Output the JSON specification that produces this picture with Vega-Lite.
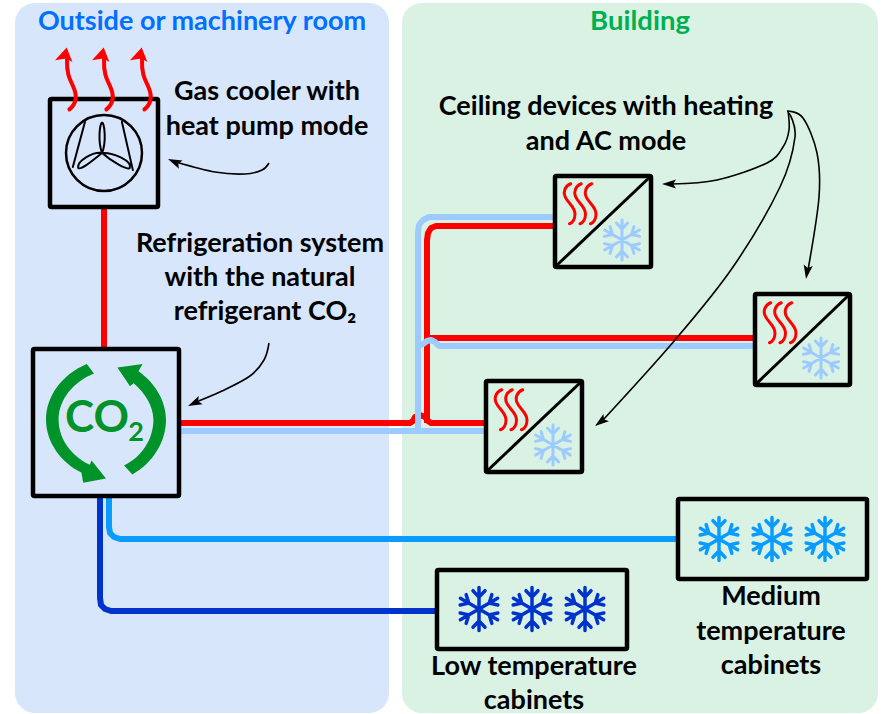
{
"$schema":"https://vega.github.io/schema/vega-lite/v6.json",
"width":883,"height":714,"padding":0,
"autosize":{"type":"fit","contains":"padding"},
"background":"#ffffff",
"config":{"view":{"stroke":null},"legend":{"disable":true}},
"resolve":{"scale":{"color":"independent","size":"independent","shape":"independent","strokeWidth":"independent"}},
"encoding":{
 "x":{"field":"x","type":"quantitative","scale":{"domain":[0,883],"nice":false,"zero":false},"axis":null},
 "y":{"field":"y","type":"quantitative","scale":{"domain":[714,0],"nice":false,"zero":false},"axis":null}
},
"layer":[
{"data":{"values":[{"zone":"outside","x":15,"x2":389,"y":3,"y2":713},{"zone":"building","x":402,"x2":878,"y":3,"y2":713}]},
 "mark":{"type":"rect","cornerRadius":20},
 "encoding":{"x2":{"field":"x2"},"y2":{"field":"y2"},
  "color":{"field":"zone","type":"nominal","scale":{"domain":["outside","building"],"range":["#D8E6FC","#D9F2E4"]}}}},
{"data":{"values":[
 {"pipe":"r1","kind":"hot","i":1,"x":104,"y":207},{"pipe":"r1","kind":"hot","i":2,"x":104,"y":349},
 {"pipe":"r2","kind":"hot","i":1,"x":181,"y":423},{"pipe":"r2","kind":"hot","i":2,"x":410,"y":423},{"pipe":"r2","kind":"hot","i":3,"x":413,"y":421},{"pipe":"r2","kind":"hot","i":4,"x":415,"y":417},{"pipe":"r2","kind":"hot","i":5,"x":420,"y":415},{"pipe":"r2","kind":"hot","i":6,"x":425,"y":417},{"pipe":"r2","kind":"hot","i":7,"x":428,"y":421},{"pipe":"r2","kind":"hot","i":8,"x":431,"y":423},{"pipe":"r2","kind":"hot","i":9,"x":486,"y":423},
 {"pipe":"r3","kind":"hot","i":1,"x":427,"y":423},{"pipe":"r3","kind":"hot","i":2,"x":427,"y":240},{"pipe":"r3","kind":"hot","i":3,"x":428,"y":233},{"pipe":"r3","kind":"hot","i":4,"x":431,"y":228},{"pipe":"r3","kind":"hot","i":5,"x":436,"y":226},{"pipe":"r3","kind":"hot","i":6,"x":442,"y":226},{"pipe":"r3","kind":"hot","i":7,"x":555,"y":226},
 {"pipe":"r4","kind":"hot","i":1,"x":427,"y":338},{"pipe":"r4","kind":"hot","i":2,"x":755,"y":338},
 {"pipe":"b1","kind":"ac","i":1,"x":181,"y":431},{"pipe":"b1","kind":"ac","i":2,"x":486,"y":431},
 {"pipe":"b2","kind":"ac","i":1,"x":418,"y":431},{"pipe":"b2","kind":"ac","i":2,"x":418,"y":232},{"pipe":"b2","kind":"ac","i":3,"x":419,"y":225},{"pipe":"b2","kind":"ac","i":4,"x":423,"y":220},{"pipe":"b2","kind":"ac","i":5,"x":429,"y":217},{"pipe":"b2","kind":"ac","i":6,"x":436,"y":217},{"pipe":"b2","kind":"ac","i":7,"x":555,"y":217},
 {"pipe":"b3","kind":"ac","i":1,"x":418,"y":346},{"pipe":"b3","kind":"ac","i":2,"x":423,"y":344},{"pipe":"b3","kind":"ac","i":3,"x":427,"y":341},{"pipe":"b3","kind":"ac","i":4,"x":431,"y":340},{"pipe":"b3","kind":"ac","i":5,"x":435,"y":342},{"pipe":"b3","kind":"ac","i":6,"x":439,"y":346},{"pipe":"b3","kind":"ac","i":7,"x":444,"y":346},{"pipe":"b3","kind":"ac","i":8,"x":755,"y":346},
 {"pipe":"m","kind":"medium","i":1,"x":109,"y":496},{"pipe":"m","kind":"medium","i":2,"x":109,"y":527},{"pipe":"m","kind":"medium","i":3,"x":110,"y":533},{"pipe":"m","kind":"medium","i":4,"x":114,"y":537},{"pipe":"m","kind":"medium","i":5,"x":120,"y":539},{"pipe":"m","kind":"medium","i":6,"x":678,"y":539},
 {"pipe":"l","kind":"low","i":1,"x":100,"y":496},{"pipe":"l","kind":"low","i":2,"x":100,"y":598},{"pipe":"l","kind":"low","i":3,"x":101,"y":605},{"pipe":"l","kind":"low","i":4,"x":105,"y":609},{"pipe":"l","kind":"low","i":5,"x":111,"y":611},{"pipe":"l","kind":"low","i":6,"x":437,"y":611}
 ]},
 "mark":{"type":"line","strokeWidth":6,"strokeJoin":"round"},
 "encoding":{"detail":{"field":"pipe"},"order":{"field":"i"},
  "color":{"field":"kind","type":"nominal","scale":{"domain":["hot","ac","medium","low"],"range":["#FF0000","#9DCBFF","#0A9BFF","#0033CC"]}}}},
{"data":{"values":[
 {"box":"cooler","x":50,"x2":158,"y":99,"y2":207},{"box":"co2","x":33,"x2":179,"y":349,"y2":496},
 {"box":"top","x":555,"x2":651,"y":176,"y2":267},{"box":"right","x":755,"x2":850,"y":294,"y2":385},{"box":"bottom","x":486,"x2":582,"y":381,"y2":472},
 {"box":"medium","x":678,"x2":867,"y":499,"y2":579},{"box":"low","x":437,"x2":627,"y":570,"y2":649}
 ]},
 "mark":{"type":"rect","filled":false,"stroke":"#000000","strokeWidth":4.5,"cornerRadius":1.5},
 "encoding":{"x2":{"field":"x2"},"y2":{"field":"y2"}}},
{"data":{"values":[
 {"d":"top","i":1,"x":555,"y":267},{"d":"top","i":2,"x":651,"y":176},
 {"d":"right","i":1,"x":755,"y":385},{"d":"right","i":2,"x":850,"y":294},
 {"d":"bottom","i":1,"x":486,"y":472},{"d":"bottom","i":2,"x":582,"y":381}
 ]},
 "mark":{"type":"line","stroke":"#000000","strokeWidth":3},
 "encoding":{"detail":{"field":"d"},"order":{"field":"i"}}},
{"data":{"values":[
 {"glyph":"fan","kind":"black","x":104,"y":153},{"glyph":"ring","kind":"black","x":104,"y":153},
 {"glyph":"riser","kind":"hot","x":70,"y":80},{"glyph":"riser","kind":"hot","x":107,"y":80},{"glyph":"riser","kind":"hot","x":145,"y":80},
 {"glyph":"heat","kind":"hot","x":580,"y":204},{"glyph":"heat","kind":"hot","x":780,"y":323},{"glyph":"heat","kind":"hot","x":511,"y":410},
 {"glyph":"snowS","kind":"ac","x":622,"y":240},{"glyph":"snowS","kind":"ac","x":821,"y":358},{"glyph":"snowS","kind":"ac","x":553,"y":445},
 {"glyph":"snowL","kind":"medium","x":719,"y":539},{"glyph":"snowL","kind":"medium","x":772,"y":539},{"glyph":"snowL","kind":"medium","x":825,"y":539},
 {"glyph":"snowL","kind":"low","x":479,"y":609},{"glyph":"snowL","kind":"low","x":532,"y":609},{"glyph":"snowL","kind":"low","x":585,"y":609}
 ]},
 "mark":{"type":"point","filled":false,"opacity":1,"strokeCap":"round","strokeJoin":"round"},
 "encoding":{
  "color":{"field":"kind","type":"nominal","scale":{"domain":["black","hot","ac","medium","low"],"range":["#000000","#FF0000","#9DCBFF","#0A9BFF","#0033CC"]}},
  "shape":{"field":"glyph","type":"nominal","scale":{"domain":["fan","ring","riser","heat","snowS","snowL"],"range":[
   "M-.05,0C-.17,-.3 -.11,-.8 -.05,-.8C.01,-.8 .07,-.3 -.05,0C-.3,-.04 -.72,.22 -.68,.39C-.62,.47 -.3,.2 -.05,0C.25,-.02 .75,.22 .68,.39C.62,.47 .2,.22 -.05,0M-.5,-.82L-.82,.37M.47,-.82L.76,.45",
   "circle",
   "M-.02,.98C.2,.8 .25,.55 .12,.25C.05,.05 -.12,-.1 -.1,-.7",
   "M-.37,-.81C-.6,-.72 -.68,-.5 -.6,-.3C-.5,-.05 -.2,.1 -.2,.4C-.2,.6 -.3,.75 -.42,.79M.05,-.81C-.18,-.72 -.26,-.5 -.18,-.3C-.08,-.05 .22,.1 .22,.4C.22,.6 .12,.75 0,.79M.47,-.81C.24,-.72 .16,-.5 .24,-.3C.34,-.05 .64,.1 .64,.4C.64,.6 .54,.75 .42,.79",
   "M0,-1L0,1M-.866,-.5L.866,.5M-.866,.5L.866,-.5M-.28,-.85L0,-.55L.28,-.85M.876,-.183L.476,-.275L.596,-.667M.596,.667L.476,.275L.876,.183M-.28,.85L0,.55L.28,.85M-.596,.667L-.476,.275L-.876,.183M-.876,-.183L-.476,-.275L-.596,-.667",
   "M0,-1L0,1M-.866,-.5L.866,.5M-.866,.5L.866,-.5M-.28,-.85L0,-.55L.28,-.85M.876,-.183L.476,-.275L.596,-.667M.596,.667L.476,.275L.876,.183M-.28,.85L0,.55L.28,.85M-.596,.667L-.476,.275L-.876,.183M-.876,-.183L-.476,-.275L-.596,-.667"
  ]}},
  "size":{"field":"glyph","type":"nominal","scale":{"type":"ordinal","domain":["fan","ring","riser","heat","snowS","snowL"],"range":[5776,5776,3600,2500,1600,1849]}},
  "strokeWidth":{"field":"glyph","type":"nominal","scale":{"type":"ordinal","domain":["fan","ring","riser","heat","snowS","snowL"],"range":[2,2.5,4,3,3,3.5]}}
 }},
{"data":{"values":[
 {"glyph":"arcL","kind":"green","x":106,"y":418},{"glyph":"arcR","kind":"green","x":106,"y":418},
 {"glyph":"head","kind":"hot","x":70,"y":80},{"glyph":"head","kind":"hot","x":107,"y":80},{"glyph":"head","kind":"hot","x":145,"y":80}
 ]},
 "mark":{"type":"point","filled":true,"opacity":1,"strokeWidth":0},
 "encoding":{
  "color":{"field":"kind","type":"nominal","scale":{"domain":["green","hot"],"range":["#009329","#FF0000"]}},
  "shape":{"field":"glyph","type":"nominal","scale":{"domain":["arcL","arcR","head"],"range":[
   "M-.32,-.9C-.75,-.72 -1,-.35 -1,.03C-1,.4 -.75,.75 -.41,.91L-.38,1.08L0,1.01L-.24,.71L-.27,.78C-.55,.65 -.79,.37 -.79,.03C-.79,-.3 -.55,-.6 -.2,-.74Z",
   "M.44,.94C.78,.75 1,.4 1,.03C1,-.3 .8,-.6 .54,-.78L.61,-.9L.19,-.84L.4,-.53L.46,-.58C.65,-.42 .79,-.2 .79,.03C.79,.35 .6,.65 .3,.79Z",
   "M-.11,-1.08L-.5,-.66L-.12,-.72L.08,-.6Z"
  ]}},
  "size":{"field":"glyph","type":"nominal","scale":{"type":"ordinal","domain":["arcL","arcR","head"],"range":[14400,14400,3600]}}
 }},
{"data":{"values":[
 {"a":"cooler","i":1,"x":269,"y":163},{"a":"cooler","i":2,"x":262,"y":170},{"a":"cooler","i":3,"x":245,"y":174},{"a":"cooler","i":4,"x":215,"y":172},{"a":"cooler","i":5,"x":176,"y":162},
 {"a":"co2","i":1,"x":269,"y":343},{"a":"co2","i":2,"x":264,"y":360},{"a":"co2","i":3,"x":250,"y":376},{"a":"co2","i":4,"x":222,"y":391},{"a":"co2","i":5,"x":196,"y":402},
 {"a":"c1","i":1,"x":788,"y":111},{"a":"c1","i":2,"x":789,"y":130},{"a":"c1","i":3,"x":783,"y":147},{"a":"c1","i":4,"x":767,"y":163},{"a":"c1","i":5,"x":717,"y":180},{"a":"c1","i":6,"x":672,"y":184},
 {"a":"c2","i":1,"x":787,"y":111},{"a":"c2","i":2,"x":803,"y":118},{"a":"c2","i":3,"x":817,"y":153},{"a":"c2","i":4,"x":819,"y":197},{"a":"c2","i":5,"x":808,"y":270},
 {"a":"c3","i":1,"x":789,"y":113},{"a":"c3","i":2,"x":795,"y":137},{"a":"c3","i":3,"x":780,"y":187},{"a":"c3","i":4,"x":733,"y":267},{"a":"c3","i":5,"x":675,"y":340},{"a":"c3","i":6,"x":603,"y":420}
 ]},
 "mark":{"type":"line","stroke":"#000000","strokeWidth":1.6,"interpolate":"cardinal"},
 "encoding":{"detail":{"field":"a"},"order":{"field":"i"}}},
{"data":{"values":[
 {"a":"cooler","x":168,"y":159,"angle":294},{"a":"co2","x":188,"y":406,"angle":245},
 {"a":"c1","x":662,"y":184,"angle":270},{"a":"c2","x":806,"y":279,"angle":189},{"a":"c3","x":595,"y":426,"angle":233}
 ]},
 "mark":{"type":"point","filled":true,"opacity":1,"strokeWidth":0,"color":"#000000","size":196,"shape":"M0,0L.65,2L0,1.6L-.65,2Z"},
 "encoding":{"angle":{"field":"angle","type":"quantitative","scale":null}}},
{"data":{"values":[
 {"role":"zoneA","t":"Outside or machinery room","x":202,"y":21},
 {"role":"zoneB","t":"Building","x":640,"y":21},
 {"role":"label","t":"Gas cooler with","x":267,"y":91},
 {"role":"label","t":"heat pump mode","x":267,"y":126},
 {"role":"label","t":"Refrigeration system","x":260,"y":243},
 {"role":"label","t":"with the natural","x":260,"y":277},
 {"role":"label","t":"refrigerant CO₂","x":265,"y":311},
 {"role":"label","t":"Ceiling devices with heating","x":606,"y":106},
 {"role":"label","t":"and AC mode","x":606,"y":141},
 {"role":"label","t":"Medium","x":771,"y":596},
 {"role":"label","t":"temperature","x":771,"y":631},
 {"role":"label","t":"cabinets","x":771,"y":665},
 {"role":"label","t":"Low temperature","x":534,"y":666},
 {"role":"label","t":"cabinets","x":534,"y":700},
 {"role":"co","t":"CO","x":97,"y":418},
 {"role":"sub","t":"2","x":136,"y":432}
 ]},
 "mark":{"type":"text","font":"Lato","fontWeight":"bold","baseline":"middle","align":"center","dy":1},
 "encoding":{"text":{"field":"t"},
  "color":{"field":"role","type":"nominal","scale":{"domain":["zoneA","zoneB","label","co","sub"],"range":["#0070FF","#00B050","#000000","#009329","#009329"]}},
  "size":{"field":"role","type":"nominal","scale":{"type":"ordinal","domain":["zoneA","zoneB","label","co","sub"],"range":[27,27.5,27,44,27]}}
 }}
]
}
